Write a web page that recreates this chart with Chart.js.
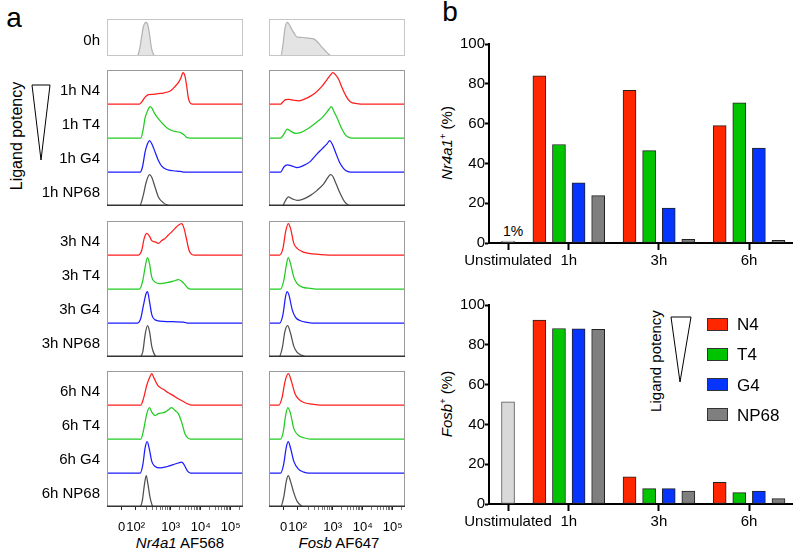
<!DOCTYPE html>
<html>
<head>
<meta charset="utf-8">
<title>Nr4a1 and Fosb after stimulation</title>
<script src="https://cdn.jsdelivr.net/npm/chart.js@4.4.1/dist/chart.umd.min.js"></script>
<style>
  html, body { margin: 0; padding: 0; background: #fff; }
  body { position: relative; width: 800px; height: 553px; overflow: hidden;
         font-family: 'Liberation Sans', Arial, sans-serif; color: #000; }
  canvas { position: absolute; }
  .txt { position: absolute; white-space: nowrap; line-height: 1; transform: translate(-50%, -50%); }
  .rot { transform: translate(-50%, -50%) rotate(-90deg); }
  sup { font-size: 0.62em; vertical-align: 0.6em; line-height: 0; }
  .key { position: absolute; width: 19px; height: 11px; border: 1px solid #333; }
</style>
</head>
<body>
<div class="txt" style="left:14px;top:18px;font-size:28px">a</div>
<div class="txt" style="left:450px;top:12px;font-size:28px">b</div>

<div class="txt rot" style="left:17px;top:136px;font-size:16px">Ligand potency</div>
<div class="txt" style="left:180px;top:542px;font-size:15px"><i>Nr4a1</i> AF568</div>
<div class="txt" style="left:339px;top:542px;font-size:15px"><i>Fosb</i> AF647</div>

<div class="txt rot" style="left:446px;top:143px;font-size:15px"><i>Nr4a1</i><sup>+</sup> (%)</div>
<div class="txt rot" style="left:446px;top:404px;font-size:15px"><i>Fosb</i><sup>+</sup> (%)</div>
<div class="txt" style="left:513px;top:231px;font-size:14px">1%</div>
<div class="txt rot" style="left:655px;top:361px;font-size:15px">Ligand potency</div>

<svg width="800" height="553" style="position:absolute;left:0;top:0;pointer-events:none">
  <polygon points="32,85 50,85 41,160" fill="none" stroke="#000" stroke-width="1"/>
  <polygon points="671,317 691,317 680,382" fill="none" stroke="#000" stroke-width="1"/>
</svg>

<script>
Chart.defaults.font.family = "'Liberation Sans', Arial, sans-serif";
Chart.defaults.color = '#000';

// ligands, strongest first
const ligands = ['N4', 'T4', 'G4', 'NP68'];
const ligandLine = ['#ff1c1c', '#22cc22', '#1c1cff', '#505050'];
const ligandFill = ['#ff2600', '#00c400', '#0535ff', '#7f7f7f'];
const unstimFill = '#d9d9d9';

// ---- panel a: histograms, x = display channel (0-1024), y = % of mode ----
const channelTicks = [110, 216, 480, 706, 931];
const channelLabels = ['0', '10²', '10³', '10⁴', '10⁵'];

const nr4a1_0h = [[225,0],[238,8],[250,30],[262,60],[272,84],[285,98],[295,100],[305,95],[320,65],[330,35],[337,20],[350,5],[362,0]];
const nr4a1_1h_N4 = [[245,0],[262,7],[287,22],[312,30],[350,31],[387,33],[425,35],[462,39],[487,45],[512,56],[537,68],[557,84],[572,100],[587,89],[600,57],[612,20],[625,4],[642,0]];
const nr4a1_1h_T4 = [[255,0],[270,22],[287,65],[305,86],[325,100],[337,96],[355,81],[380,65],[412,49],[450,33],[487,24],[525,20],[555,17],[580,10],[605,1],[625,0]];
const nr4a1_1h_G4 = [[250,0],[267,16],[287,64],[305,90],[320,100],[337,90],[362,64],[387,37],[412,19],[450,8],[500,4],[550,2],[575,0]];
const nr4a1_1h_NP68 = [[245,0],[270,29],[295,76],[320,100],[337,92],[362,60],[387,29],[425,10],[462,2],[487,0]];
const nr4a1_3h_N4 = [[237,0],[262,16],[280,53],[300,69],[320,60],[337,46],[362,42],[387,37],[412,46],[437,53],[462,64],[487,74],[512,85],[537,95],[562,100],[580,85],[600,48],[617,16],[637,2],[655,0]];
const nr4a1_3h_T4 = [[245,0],[270,28],[287,70],[305,100],[320,81],[337,38],[362,22],[400,17],[450,20],[500,25],[537,30],[562,25],[587,14],[612,2],[630,0]];
const nr4a1_3h_G4 = [[230,0],[255,16],[275,58],[295,95],[305,100],[320,69],[337,27],[362,10],[425,5],[500,4],[575,3],[605,0]];
const nr4a1_3h_NP68 = [[245,0],[270,18],[287,71],[305,100],[320,82],[337,34],[355,10],[375,0]];
const nr4a1_6h_N4 = [[255,0],[275,21],[300,64],[325,92],[337,100],[355,85],[387,60],[425,50],[462,39],[500,30],[537,20],[575,11],[612,3],[637,0]];
const nr4a1_6h_T4 = [[255,0],[275,28],[300,81],[320,100],[337,86],[362,75],[387,81],[412,83],[437,86],[462,93],[487,100],[512,91],[537,81],[562,54],[587,17],[612,2],[630,0]];
const nr4a1_6h_G4 = [[250,0],[270,27],[287,80],[302,100],[320,74],[337,37],[362,21],[400,16],[450,20],[500,27],[537,32],[562,35],[580,27],[605,7],[630,0]];
const nr4a1_6h_NP68 = [[245,0],[265,18],[280,66],[295,100],[307,76],[325,29],[345,2],[362,0]];

const fosb_0h = [[88,0],[105,33],[120,82],[137,100],[155,92],[175,77],[195,64],[212,56],[250,55],[300,53],[337,51],[362,43],[395,28],[425,15],[450,5],[475,0]];
const fosb_1h_N4 = [[88,0],[105,7],[125,14],[150,15],[187,12],[225,10],[262,15],[300,22],[350,36],[400,57],[437,78],[462,92],[480,100],[500,94],[525,78],[550,52],[580,25],[612,7],[662,1],[687,0]];
const fosb_1h_T4 = [[88,0],[112,12],[137,28],[162,22],[200,15],[237,17],[287,28],[337,43],[375,56],[400,65],[425,77],[450,91],[470,100],[487,86],[512,65],[550,28],[575,10],[605,1],[625,0]];
const fosb_1h_G4 = [[88,0],[112,16],[137,23],[175,19],[212,14],[262,21],[312,34],[362,58],[400,74],[437,90],[457,100],[475,90],[500,64],[530,32],[562,11],[595,1],[612,0]];
const fosb_1h_NP68 = [[100,0],[125,18],[145,29],[175,23],[212,18],[262,23],[312,34],[362,50],[412,71],[445,92],[462,100],[480,95],[505,71],[537,39],[570,13],[600,2],[620,0]];
const fosb_3h_N4 = [[80,0],[105,21],[125,74],[145,100],[162,85],[187,37],[212,21],[250,11],[300,5],[375,2],[450,0]];
const fosb_3h_T4 = [[87,0],[112,28],[130,75],[145,100],[162,81],[187,38],[212,17],[250,6],[312,2],[350,0]];
const fosb_3h_G4 = [[80,0],[105,27],[125,85],[137,100],[150,90],[175,42],[200,18],[237,7],[287,2],[325,0]];
const fosb_3h_NP68 = [[75,0],[100,29],[120,82],[140,100],[162,76],[187,34],[212,15],[250,5],[287,0]];
const fosb_6h_N4 = [[75,0],[100,27],[120,74],[145,100],[170,74],[195,37],[225,18],[262,8],[325,3],[387,0]];
const fosb_6h_T4 = [[87,0],[107,22],[125,75],[142,100],[162,81],[187,33],[220,12],[262,4],[312,0]];
const fosb_6h_G4 = [[87,0],[110,27],[130,82],[145,100],[162,80],[187,37],[220,13],[262,3],[300,0]];
const fosb_6h_NP68 = [[87,0],[112,34],[130,82],[145,100],[162,82],[187,45],[212,18],[245,3],[275,0]];

// ---- panel b: % positive cells ----
const groups = ['Unstimulated', '1h', '3h', '6h'];
const nr4a1Unstim = [1];
const nr4a1N4 = [84, 76.7, 59];
const nr4a1T4 = [49.5, 46.4, 70.4];
const nr4a1G4 = [30.2, 17.6, 47.7];
const nr4a1NP68 = [23.8, 1.8, 1.3];
const fosbUnstim = [51.3];
const fosbN4 = [92.4, 13.6, 10.9];
const fosbT4 = [88.2, 7.7, 5.7];
const fosbG4 = [88.0, 7.7, 6.5];
const fosbNP68 = [87.8, 6.5, 2.7];

// draws the grey frame round each histogram block
const boxBorder = {
  id: 'boxBorder',
  afterDatasetsDraw(chart, args, o) {
    const { ctx, chartArea: a } = chart;
    ctx.save();
    ctx.strokeStyle = o.color;
    ctx.lineWidth = 1;
    ctx.strokeRect(a.left + 0.5, a.top + 0.5, a.width - 1, a.height - 1);
    ctx.strokeStyle = o.bottom;
    ctx.lineWidth = o.bottomWidth;
    ctx.beginPath();
    ctx.moveTo(a.left, a.bottom - o.bottomWidth / 2);
    ctx.lineTo(a.right, a.bottom - o.bottomWidth / 2);
    ctx.stroke();
    ctx.restore();
  }
};

function makeCanvas(left, top, width, height) {
  const c = document.createElement('canvas');
  c.width = width;
  c.height = height;
  c.style.cssText = `left:${left}px;top:${top}px;width:${width}px;height:${height}px`;
  document.body.appendChild(c);
  return c;
}

// no label overhang padding: the frames must sit exactly where they are put
function noOverhang(s) {
  s.paddingTop = 0; s.paddingBottom = 0; s.paddingLeft = 0; s.paddingRight = 0;
}

// minor ticks on the log part of the axis
const axisTicks = channelTicks.slice();
for (let d = 1; d < channelTicks.length; d++) {
  const p0 = channelTicks[d];
  const span = d < channelTicks.length - 1 ? channelTicks[d + 1] - p0 : channelTicks[d] - channelTicks[d - 1];
  for (let k = 2; k <= 9; k++) {
    const v = p0 + Math.log10(k) * span;
    if (v < 1020) axisTicks.push(v);
  }
}

const ROW = 108.6;      // one offset row in a stacked block
const ROW_0H = 110;
const AXIS_H = 34;
const COL_X = [{ left: 0, width: 250, labels: true }, { left: 262, width: 150, labels: false }];

function histogramChart(col, top, bottom, traces, opt) {
  const n = traces.length;
  const axisH = opt.axis ? AXIS_H : 0;
  const canvas = makeCanvas(col.left, top - 3, col.width, bottom - top + 3 + (opt.axis ? axisH : 3));
  const datasets = traces.map((t, i) => {
    const base = (n - 1 - i) * opt.row;
    return {
      data: [[0, 0], ...t.data, [1024, 0]].map(p => ({ x: p[0], y: p[1] + base })),
      borderColor: t.color,
      borderWidth: 1.25,
      backgroundColor: t.fill || 'transparent',
      fill: t.fill ? { value: base } : false,
      pointRadius: 0,
      cubicInterpolationMode: 'monotone'
    };
  });
  return new Chart(canvas, {
    type: 'line',
    data: { datasets },
    options: {
      responsive: false,
      animation: false,
      layout: { padding: { top: 3, bottom: opt.axis ? 0 : 3, left: col.labels ? 0 : 7, right: 7 } },
      plugins: { legend: { display: false }, tooltip: { enabled: false }, boxBorder: opt.border },
      scales: {
        x: {
          type: 'linear', min: 0, max: 1024, display: !!opt.axis,
          afterBuildTicks: s => { s.ticks = axisTicks.map(v => ({ value: v })); },
          afterFit: s => { s.height = axisH; noOverhang(s); },
          border: { display: false },
          grid: { drawOnChartArea: false, tickLength: 3, tickColor: c => c.index < 5 ? '#222' : '#777' },
          ticks: { autoSkip: false, maxRotation: 0, padding: 10, font: { size: 13 }, color: '#000',
                   callback: (v, i) => channelLabels[i] || '' }
        },
        y: {
          type: 'linear', min: 0, max: n * opt.row, display: col.labels,
          afterBuildTicks: s => { s.ticks = traces.map((t, i) => ({ value: (n - 1 - i) * opt.row + opt.lift })); },
          afterFit: s => { s.width = col.labels ? 107 : 0; noOverhang(s); },
          border: { display: false },
          grid: { display: false, drawTicks: false, tickLength: 0 },
          ticks: { autoSkip: false, padding: 7, font: { size: 15 }, color: '#000',
                   callback: (v, i) => traces[i].label }
        }
      }
    },
    plugins: [boxBorder]
  });
}

const lightFrame = { color: '#c6c6c6', bottom: '#c6c6c6', bottomWidth: 1 };
const frame = { color: '#9a9a9a', bottom: '#333', bottomWidth: 1.6 };

const blocks = [
  { time: '1h', top: 70, bottom: 206, nr: [nr4a1_1h_N4, nr4a1_1h_T4, nr4a1_1h_G4, nr4a1_1h_NP68], fb: [fosb_1h_N4, fosb_1h_T4, fosb_1h_G4, fosb_1h_NP68] },
  { time: '3h', top: 221, bottom: 357, nr: [nr4a1_3h_N4, nr4a1_3h_T4, nr4a1_3h_G4, nr4a1_3h_NP68], fb: [fosb_3h_N4, fosb_3h_T4, fosb_3h_G4, fosb_3h_NP68] },
  { time: '6h', top: 371, bottom: 507, nr: [nr4a1_6h_N4, nr4a1_6h_T4, nr4a1_6h_G4, nr4a1_6h_NP68], fb: [fosb_6h_N4, fosb_6h_T4, fosb_6h_G4, fosb_6h_NP68] }
];

[nr4a1_0h, fosb_0h].forEach((h, c) => {
  histogramChart(COL_X[c], 19, 56, [{ data: h, color: '#b4b4b4', fill: '#e4e4e4', label: '0h' }],
    { row: ROW_0H, lift: 44.6, border: lightFrame });
});

blocks.forEach((b, bi) => {
  ['nr', 'fb'].forEach((key, c) => {
    const traces = b[key].map((h, s) => ({ data: h, color: ligandLine[s], label: b.time + ' ' + ligands[s] }));
    histogramChart(COL_X[c], b.top, b.bottom, traces,
      { row: ROW, lift: 41.5, border: frame, axis: bi === blocks.length - 1 });
  });
});

// ---- panel b bar charts ----
const groupCentres = [0, 3.1, 7.7, 12.3];   // slot positions of the four groups
const BAR_STEP = 1;

function barChart(top, height, padTop, axisH, unstim, values) {
  const canvas = makeCanvas(420, top, 380, height);
  const datasets = [{
    label: groups[0],
    data: unstim.map(v => ({ x: groupCentres[0], y: v })),
    backgroundColor: unstimFill,
    borderColor: '#555'
  }].concat(ligands.map((name, s) => ({
    label: name,
    data: values[s].map((v, g) => ({ x: groupCentres[g + 1] + (s - 1.5) * BAR_STEP, y: v })),
    backgroundColor: ligandFill[s],
    borderColor: '#222'
  })));
  return new Chart(canvas, {
    type: 'bar',
    data: { datasets },
    options: {
      responsive: false,
      animation: false,
      datasets: { bar: { barThickness: 13, grouped: false, borderWidth: 1, borderSkipped: false } },
      layout: { padding: { top: padTop, right: 8, left: 0, bottom: 0 } },
      plugins: { legend: { display: false }, tooltip: { enabled: false } },
      scales: {
        x: {
          type: 'linear', min: -0.97, max: 14.49, offset: false,
          afterBuildTicks: s => { s.ticks = groupCentres.map(v => ({ value: v })); },
          afterFit: s => { s.height = axisH; },
          border: { color: '#000', width: 2 },
          grid: { offset: false, drawOnChartArea: false, tickLength: 7, tickWidth: 2, tickColor: '#000' },
          ticks: { autoSkip: false, maxRotation: 0, padding: 2, font: { size: 15 }, color: '#000',
                   callback: (v, i) => groups[i] }
        },
        y: {
          min: 0, max: 100,
          afterFit: s => { s.width = 69; },
          border: { color: '#000', width: 2 },
          grid: { drawOnChartArea: false, tickLength: 4, tickWidth: 2, tickColor: '#000' },
          ticks: { stepSize: 20, padding: 0, font: { size: 15 }, color: '#000' }
        }
      }
    }
  });
}

barChart(30, 250, 14, 37, nr4a1Unstim, [nr4a1N4, nr4a1T4, nr4a1G4, nr4a1NP68]);
barChart(290, 263, 15, 49, fosbUnstim, [fosbN4, fosbT4, fosbG4, fosbNP68]);

// legend
ligands.forEach((name, s) => {
  const y = 324 + s * 30.3;
  const box = document.createElement('div');
  box.className = 'key';
  box.style.cssText = `left:707px;top:${y - 6.5}px;background:${ligandFill[s]}`;
  document.body.appendChild(box);
  const t = document.createElement('div');
  t.className = 'txt';
  t.style.cssText = `left:737px;top:${y}px;font-size:17px;transform:translate(0,-50%)`;
  t.textContent = name;
  document.body.appendChild(t);
});
</script>
</body>
</html>
